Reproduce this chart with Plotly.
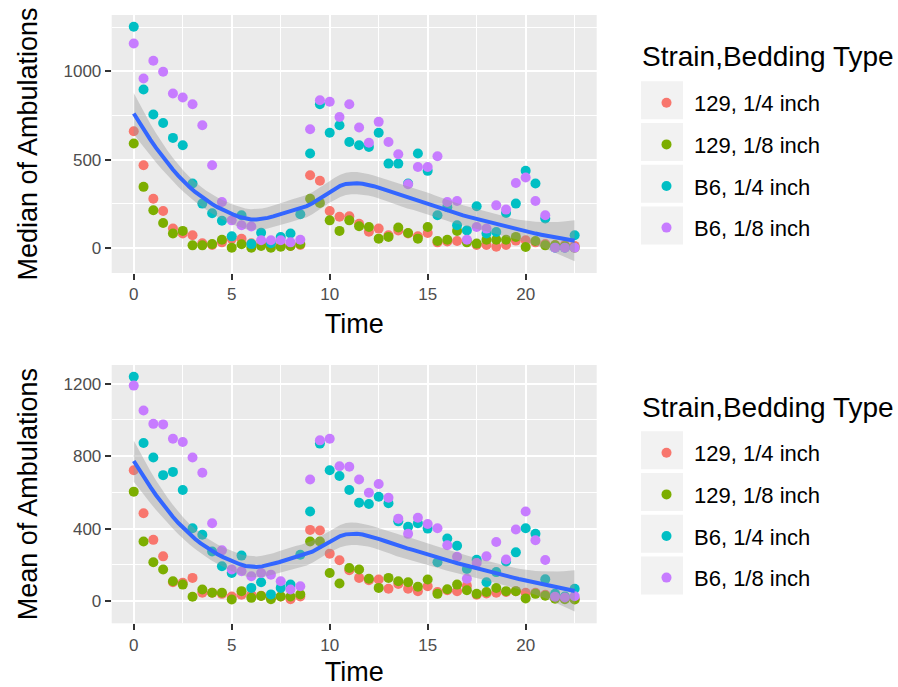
import numpy as np
import plotly.graph_objects as go

# ---------------- data ----------------
times = [0, 0.5, 1, 1.5, 2, 2.5, 3, 3.5, 4, 4.5, 5, 5.5, 6, 6.5, 7, 7.5, 8, 8.5,
         9, 9.5, 10, 10.5, 11, 11.5, 12, 12.5, 13, 13.5, 14, 14.5, 15, 15.5, 16,
         16.5, 17, 17.5, 18, 18.5, 19, 19.5, 20, 20.5, 21, 21.5, 22, 22.5]

series_names = ["129, 1/4 inch", "129, 1/8 inch", "B6, 1/4 inch", "B6, 1/8 inch"]
series_colors = ["#F8766D", "#7CAE00", "#00BFC4", "#C77CFF"]
legend_title = "Strain,Bedding Type"
x_title = "Time"
x_ticks = [0, 5, 10, 15, 20]

# Median of ambulations
median_129_q = [661, 468, 278, 208, 108, 80, 70, 25, 15, 30, 50, 50, 25, 20, 15, 10, 10, 15,
                411, 380, 208, 175, 178, 136, 90, 108, 70, 98, 80, 64, 83, 30, 35,
                38, 40, 15, 15, 5, 15, 40, 42, 30, 20, 15, 15, 10]
median_129_e = [591, 345, 212, 140, 80, 95, 13, 13, 20, 45, 0, 19, 0, 10, 0, 5, 10, 20,
                278, 254, 155, 95, 155, 121, 117, 51, 61, 114, 83, 51, 117, 38, 45,
                95, 30, 23, 45, 45, 45, 61, 4, 38, 13, 13, 8, 0]
median_b6_q = [1254, 898, 756, 708, 623, 581, 364, 250, 195, 153, 64, 184, 20, 85, 25, 60, 80, 190,
               534, 814, 652, 695, 600, 581, 572, 652, 477, 477, 364, 534, 436, 184, 230,
               127, 98, 235, 80, 89, 197, 250, 436, 364, 165, 0, 0, 70]
median_b6_e = [1159, 960, 1061, 998, 875, 852, 814, 695, 468, 259, 155, 127, 120, 42, 42, 42, 30, 45,
               672, 837, 828, 742, 814, 682, 595, 714, 600, 530, 360, 458, 458, 519, 259,
               265, 45, 117, 108, 240, 216, 367, 398, 265, 184, 0, 0, 0]

# Mean of ambulations
mean_129_q = [722, 485, 338, 247, 104, 101, 128, 46, 46, 40, 25, 35, 35, 30, 20, 25, 10, 25,
              393, 390, 262, 225, 170, 128, 115, 119, 68, 95, 68, 55, 82, 50, 60,
              55, 84, 35, 42, 46, 50, 55, 46, 46, 35, 20, 15, 10]
mean_129_e = [604, 329, 214, 174, 110, 91, 24, 64, 46, 46, 9, 55, 18, 28, 10, 25, 25, 37,
              329, 329, 155, 97, 183, 174, 123, 73, 128, 110, 104, 79, 119, 40, 65,
              91, 60, 40, 50, 72, 55, 55, 15, 40, 30, 13, 10, 9]
mean_b6_q = [1238, 872, 792, 695, 713, 613, 402, 366, 274, 192, 155, 251, 73, 104, 37, 73, 91, 256,
             494, 869, 722, 690, 613, 543, 536, 576, 540, 440, 410, 430, 400, 214, 345,
             305, 177, 228, 104, 160, 219, 269, 402, 371, 120, 40, 25, 68]
mean_b6_e = [1189, 1052, 978, 975, 896, 878, 792, 708, 430, 280, 174, 165, 137, 155, 146, 110, 64, 82,
             671, 887, 896, 744, 741, 671, 598, 646, 570, 455, 371, 460, 425, 402, 308,
             245, 123, 210, 247, 326, 230, 395, 494, 336, 227, 24, 20, 27]

median_series = [median_129_q, median_129_e, median_b6_q, median_b6_e]
mean_series = [mean_129_q, mean_129_e, mean_b6_q, mean_b6_e]


# ---------------- loess smoother (R's loess: kd-tree vertices + Hermite interpolation) ----------------
def loess_fit(x, y, xnew, span=0.75, degree=2, cell=0.2):
    x = np.asarray(x, float)
    y = np.asarray(y, float)
    n = len(x)
    q = int(np.floor(n * span))
    fc = int(np.floor(n * span * cell))
    xs = np.sort(x)

    # bounding vertices
    mu = 0.005 * max(xs[-1] - xs[0], 1e-10)
    lower, upper = xs[0] - mu, xs[-1] + mu
    verts = {lower, upper}

    def x1(i):
        return xs[i - 1]

    def split(l, u, vlo, vhi):
        if (u - l) + 1 <= fc:
            return
        m = (l + u) // 2
        offset = 0
        while True:
            if (m + offset >= u) or (m + offset < l):
                break
            if x1(m + offset) == x1(m + offset + 1):
                offset = -offset
                if offset >= 0:
                    offset += 1
                continue
            m = m + offset
            break
        xm = x1(m)
        if vlo == xm or vhi == xm or m >= u:
            return
        verts.add(xm)
        split(l, m, vlo, xm)
        split(m + 1, u, xm, vhi)

    split(1, n, lower, upper)
    V = np.array(sorted(verts))

    def op_rows(x0):
        d = np.abs(x - x0)
        h = np.sort(d)[q - 1]
        u = np.clip(d / h, 0, 1)
        w = (1 - u ** 3) ** 3
        X = np.vander(x - x0, degree + 1, increasing=True)
        XtW = X.T * w
        B = np.linalg.solve(XtW @ X, XtW)
        return B[0], B[1]

    vals = []
    slopes = []
    for v in V:
        a, b = op_rows(v)
        vals.append(a)
        slopes.append(b)
    vals = np.array(vals)
    slopes = np.array(slopes)

    def interp_rows(pts):
        out = np.zeros((len(pts), n))
        for i, t in enumerate(pts):
            j = np.searchsorted(V, t, side="right") - 1
            j = min(max(j, 0), len(V) - 2)
            a, b = V[j], V[j + 1]
            hh = (t - a) / (b - a)
            phi0 = (1 - hh) ** 2 * (1 + 2 * hh)
            phi1 = hh ** 2 * (3 - 2 * hh)
            psi0 = hh * (1 - hh) ** 2
            psi1 = -hh ** 2 * (1 - hh)
            out[i] = (phi0 * vals[j] + phi1 * vals[j + 1]
                      + (psi0 * slopes[j] + psi1 * slopes[j + 1]) * (b - a))
        return out

    Ld = interp_rows(x)
    Lg = interp_rows(np.asarray(xnew, float))
    resid = y - Ld @ y
    M = np.eye(n) - Ld
    MtM = M.T @ M
    d1 = np.trace(MtM)
    sigma = np.sqrt(np.sum(resid ** 2) / d1)
    fit = Lg @ y
    se = sigma * np.sqrt(np.sum(Lg ** 2, axis=1))
    tq = 1.974
    return fit, fit - tq * se, fit + tq * se


# ---------------- figure ----------------
W, H = 898, 687
FONT = "Liberation Sans, Arial, sans-serif"

panels = [
    dict(series=median_series, ytitle="Median of Ambulations", ymaj=[0, 500, 1000],
         ymin=[250, 750, 1250], top=15, bottom=273, xa="x", ya="y", legend="legend"),
    dict(series=mean_series, ytitle="Mean of Ambulations", ymaj=[0, 400, 800, 1200],
         ymin=[200, 600, 1000], top=365, bottom=623.3, xa="x2", ya="y2", legend="legend2"),
]

px_left, px_right = 111.7, 596.7

fig = go.Figure()
layout = dict(
    width=W, height=H, margin=dict(l=0, r=0, t=0, b=0),
    paper_bgcolor="white", plot_bgcolor="#EBEBEB",
    font=dict(family=FONT, color="black"),
    showlegend=True, shapes=[], annotations=[],
)

xall = np.repeat([times], 4, axis=0).ravel()
xgrid = np.linspace(min(times), max(times), 80)

for pi, p in enumerate(panels):
    for name, col, vals in zip(series_names, series_colors, p["series"]):
        fig.add_trace(go.Scatter(
            x=times, y=vals, mode="markers", name=name,
            marker=dict(color=col, size=10, line=dict(width=0)),
            xaxis=p["xa"], yaxis=p["ya"], legend=p["legend"], legendgroup=f"{pi}-{name}",
            hoverinfo="x+y+name"))
    yall = np.concatenate([np.asarray(v, float) for v in p["series"]])
    fit, lo, hi = loess_fit(xall, yall, xgrid)
    fig.add_trace(go.Scatter(
        x=np.concatenate([xgrid, xgrid[::-1]]), y=np.concatenate([hi, lo[::-1]]),
        fill="toself", fillcolor="rgba(153,153,153,0.4)", line=dict(width=0),
        mode="lines", showlegend=False, hoverinfo="skip",
        xaxis=p["xa"], yaxis=p["ya"]))
    fig.add_trace(go.Scatter(
        x=xgrid, y=fit, mode="lines", line=dict(color="#3366FF", width=4),
        showlegend=False, hoverinfo="skip", xaxis=p["xa"], yaxis=p["ya"]))

    lo_v = min(yall.min(), lo.min())
    hi_v = max(yall.max(), hi.max())
    pad = 0.05 * (hi_v - lo_v)
    xpad = 0.05 * (max(times) - min(times))

    sfx = "" if pi == 0 else "2"
    layout["xaxis" + sfx] = dict(
        domain=[px_left / W, px_right / W], anchor=p["ya"],
        range=[min(times) - xpad, max(times) + xpad],
        tickvals=x_ticks, ticktext=[str(v) for v in x_ticks],
        showgrid=True, gridcolor="white", gridwidth=2, zeroline=False, showline=False,
        ticks="outside", ticklen=6, tickwidth=2, tickcolor="#333333",
        tickfont=dict(size=17, color="#4D4D4D"),
        minor=dict(tickvals=[2.5, 7.5, 12.5, 17.5, 22.5], showgrid=True,
                   gridcolor="white", gridwidth=1, ticks=""),
        title=dict(text=x_title, font=dict(size=27, color="black"), standoff=10),
        automargin=False, fixedrange=True)
    layout["yaxis" + sfx] = dict(
        domain=[1 - p["bottom"] / H, 1 - p["top"] / H], anchor=p["xa"],
        range=[lo_v - pad, hi_v + pad],
        tickvals=p["ymaj"], ticktext=[str(v) for v in p["ymaj"]],
        showgrid=True, gridcolor="white", gridwidth=2, zeroline=False, showline=False,
        ticks="outside", ticklen=6, tickwidth=2, tickcolor="#333333",
        tickfont=dict(size=17, color="#4D4D4D"),
        minor=dict(tickvals=p["ymin"], showgrid=True, gridcolor="white", gridwidth=1, ticks=""),
        title=dict(text=p["ytitle"], font=dict(size=27, color="black"), standoff=18),
        automargin=False, fixedrange=True)
    layout[p["legend"]] = dict(
        x=639 / W, xanchor="left", y=1 - (p["top"] + 67) / H, yanchor="top",
        bgcolor="rgba(0,0,0,0)", borderwidth=0, itemwidth=45,
        font=dict(size=22, color="black"), tracegroupgap=10,
        itemclick=False, itemdoubleclick=False)
    layout["annotations"].append(dict(
        text=legend_title, xref="paper", yref="paper", x=640 / W, xanchor="left",
        y=1 - (p["top"] + 42) / H, yanchor="middle", showarrow=False,
        font=dict(size=28, color="black")))
    # grey legend key backgrounds (ggplot-style)
    first_c = p["top"] + 85.3
    for k in range(4):
        cy = first_c + k * 41.7
        layout["shapes"].append(dict(
            type="rect", xref="paper", yref="paper", layer="below",
            x0=641 / W, x1=683 / W, y0=1 - (cy + 19.0) / H, y1=1 - (cy - 19.0) / H,
            fillcolor="#F2F2F2", line=dict(width=0)))

fig.update_layout(**layout)
fig.write_html("out.html")
